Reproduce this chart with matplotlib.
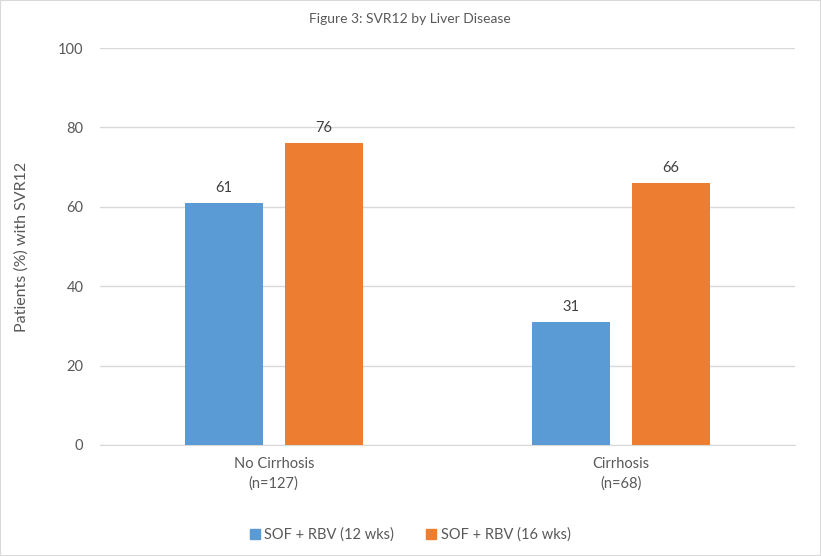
import numpy as np
import matplotlib.pyplot as plt
from matplotlib.patches import Patch, Rectangle

plt.rcParams['font.family'] = ['Lato', 'DejaVu Sans']

categories = ["No Cirrhosis\n(n=127)", "Cirrhosis\n(n=68)"]
series_names = ["SOF + RBV (12 wks)", "SOF + RBV (16 wks)"]
svr_12wk = [61, 31]
svr_16wk = [76, 66]
colors = ["#5B9BD5", "#ED7D31"]
grey = "#595959"

fig = plt.figure(figsize=(8.21, 5.56), dpi=100)
ax = fig.add_axes([100 / 821, 111 / 556, 695 / 821, 397 / 556])

x = np.arange(len(categories))
w, gap = 0.224, 0.063
for i, (vals, c) in enumerate([(svr_12wk, colors[0]), (svr_16wk, colors[1])]):
    pos = x + (i - 0.5) * (w + gap)
    bars = ax.bar(pos, vals, width=w, color=c, zorder=3)
    for b, v in zip(bars, vals):
        ax.text(b.get_x() + b.get_width() / 2, v + 2, f"{v}", ha="center", va="bottom",
                fontsize=10.5, color="#404040")

ax.set_xlim(-0.5, 1.5)
ax.set_ylim(0, 100)
ax.set_yticks(range(0, 101, 20))
ax.set_xticks(x)
ax.set_xticklabels(categories, fontsize=10.5, color=grey, linespacing=1.45)
ax.tick_params(axis="y", labelsize=10.5, colors=grey, length=0, pad=12)
ax.tick_params(axis="x", length=0, pad=9)
ax.grid(axis="y", color="#D9D9D9", lw=1, zorder=0)
for s in ["top", "right", "left"]:
    ax.spines[s].set_visible(False)
ax.spines["bottom"].set_color("#D9D9D9")
ax.set_ylabel("Patients (%) with SVR12", fontsize=11.5, color=grey)
ax.yaxis.set_label_coords(-0.103, 0.5)

fig.text(410 / 821, 1 - 19 / 556, "Figure 3: SVR12 by Liver Disease", ha="center", va="center",
         fontsize=10, color=grey)
handles = [Patch(color=c) for c in colors]
fig.legend(handles, series_names, loc="center", bbox_to_anchor=(410 / 821, 1 - 535 / 556),
           ncol=2, frameon=False, fontsize=10.5, labelcolor=grey, handlelength=0.7,
           handleheight=0.7, handletextpad=0.3, columnspacing=2.2)
fig.patches.append(Rectangle((0, 0), 1, 1, transform=fig.transFigure, fill=False,
                             edgecolor="#D9D9D9", lw=1.5))

fig.savefig("out.png", dpi=100)
